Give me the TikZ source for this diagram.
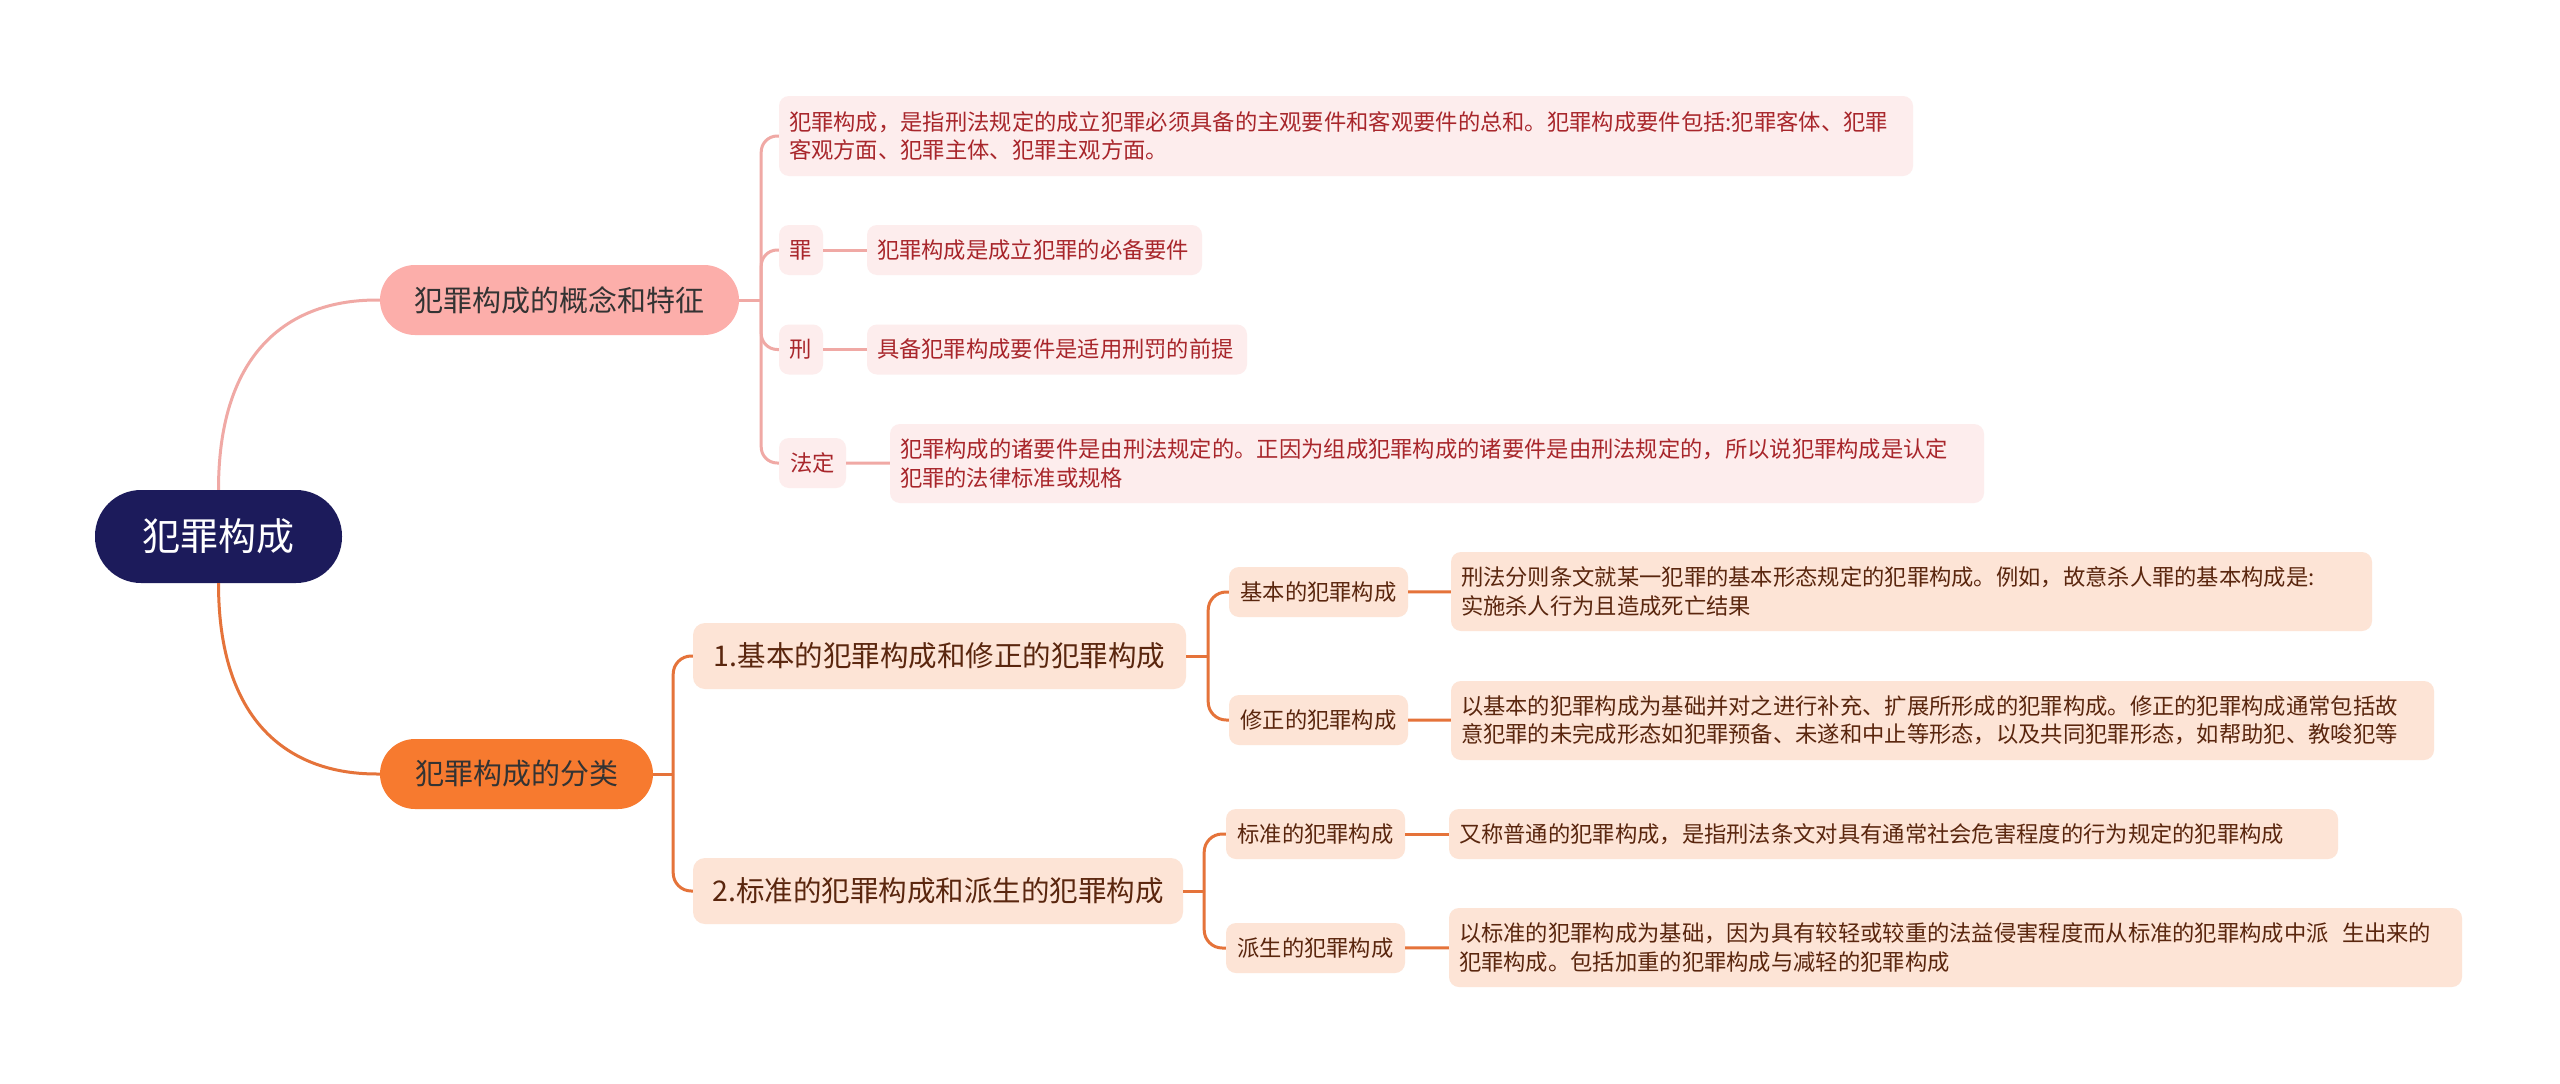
\documentclass[tikz,border=0pt]{standalone}
\usepackage{fontspec}
\newfontfamily\cjk{Noto Sans CJK SC}
\definecolor{rootblue}{HTML}{1C1B5B}
\definecolor{pinkfill}{HTML}{FCAEAA}
\definecolor{pinkpale}{HTML}{FDEDED}
\definecolor{pinkline}{HTML}{F0A9A5}
\definecolor{pinktext}{HTML}{A8262B}
\definecolor{orangefill}{HTML}{F77A2F}
\definecolor{peachpale}{HTML}{FDE4D6}
\definecolor{orangeline}{HTML}{E5733A}
\definecolor{browntext}{HTML}{5A260E}
\definecolor{darktext}{HTML}{333333}
\tikzset{
  rootbox/.style={fill=rootblue, text=white, rounded corners=46pt, minimum width=247pt, minimum height=93pt, inner sep=0pt, font=\cjk\fontsize{38}{44}\selectfont},
  mainbox/.style={rounded corners=35pt, minimum height=70pt, inner sep=0pt, text=darktext, font=\cjk\fontsize{29}{34}\selectfont},
  pinktag/.style={fill=pinkpale, text=pinktext, rounded corners=10pt, minimum height=50pt, inner sep=0pt, font=\cjk\fontsize{22.3}{28.5}\selectfont},
  pinkleaf/.style={pinktag, align=left, inner xsep=10pt},
  peachtag/.style={fill=peachpale, text=browntext, rounded corners=10pt, minimum height=50pt, inner sep=0pt, font=\cjk\fontsize{22.3}{28.5}\selectfont},
  peachleaf/.style={peachtag, align=left, inner xsep=10pt},
  peachmid/.style={peachtag, rounded corners=12pt, minimum height=66pt, font=\cjk\fontsize{28.5}{34}\selectfont},
  pinklink/.style={draw=pinkline, line width=3pt},
  orangelink/.style={draw=orangeline, line width=3pt},
}
\begin{document}
\begin{tikzpicture}[x=1pt,y=-1pt]
  \fill [white] (0,0) rectangle (2560,1084);
  \useasboundingbox (0,0) rectangle (2560,1084);

  \node [rootbox] (root) at (218.5,536.5) {犯罪构成};
  \node [mainbox, fill=pinkfill, minimum width=359pt] (concept) at (559.5,300) {犯罪构成的概念和特征};
  \node [mainbox, fill=orangefill, minimum width=273pt] (kinds) at (516.5,774) {犯罪构成的分类};

  \node [pinkleaf, text width=1114pt, minimum height=80pt] (def) at (1346,136) {犯罪构成，是指刑法规定的成立犯罪必须具备的主观要件和客观要件的总和。犯罪构成要件包括:犯罪客体、犯罪\\客观方面、犯罪主体、犯罪主观方面。};
  \node [pinktag, minimum width=44pt] (zui) at (801,250) {罪};
  \node [pinkleaf, text width=315pt] (zuitext) at (1034.5,250) {犯罪构成是成立犯罪的必备要件};
  \node [pinktag, minimum width=44pt] (xing) at (801,349.5) {刑};
  \node [pinkleaf, text width=360pt] (xingtext) at (1057,349.5) {具备犯罪构成要件是适用刑罚的前提};
  \node [pinktag, minimum width=67pt] (fading) at (812.5,463) {法定};
  \node [pinkleaf, text width=1074pt, minimum height=79pt] (fadingtext) at (1437,463.5) {犯罪构成的诸要件是由刑法规定的。正因为组成犯罪构成的诸要件是由刑法规定的，所以说犯罪构成是认定\\犯罪的法律标准或规格};

  \node [peachmid, minimum width=493pt] (one) at (939.5,656) {1.基本的犯罪构成和修正的犯罪构成};
  \node [peachmid, minimum width=490pt] (two) at (938,891) {2.标准的犯罪构成和派生的犯罪构成};

  \node [peachtag, minimum width=179pt] (basic) at (1318.5,592) {基本的犯罪构成};
  \node [peachleaf, text width=901pt, minimum height=79pt] (basictext) at (1911.5,591.5) {刑法分则条文就某一犯罪的基本形态规定的犯罪构成。例如，故意杀人罪的基本构成是:\\实施杀人行为且造成死亡结果};
  \node [peachtag, minimum width=179pt] (amend) at (1318.5,720) {修正的犯罪构成};
  \node [peachleaf, text width=963pt, minimum height=79pt] (amendtext) at (1942.5,720.5) {以基本的犯罪构成为基础并对之进行补充、扩展所形成的犯罪构成。修正的犯罪构成通常包括故\\意犯罪的未完成形态如犯罪预备、未遂和中止等形态，以及共同犯罪形态，如帮助犯、教唆犯等};
  \node [peachtag, minimum width=179pt] (standard) at (1315.5,834) {标准的犯罪构成};
  \node [peachleaf, text width=869pt] (standardtext) at (1893.5,834) {又称普通的犯罪构成，是指刑法条文对具有通常社会危害程度的行为规定的犯罪构成};
  \node [peachtag, minimum width=179pt] (derived) at (1315.5,948) {派生的犯罪构成};
  \node [peachleaf, text width=993pt, minimum height=79pt] (derivedtext) at (1955.5,947.5) {以标准的犯罪构成为基础，因为具有较轻或较重的法益侵害程度而从标准的犯罪构成中派\hspace{0.6em}生出来的\\犯罪构成。包括加重的犯罪构成与减轻的犯罪构成};

  \draw [pinklink] (root.north) .. controls (root.north |- concept.west) and ([xshift=-30pt]concept.west) .. (concept.west);
  \draw [orangelink] (root.south) .. controls (root.south |- kinds.west) and ([xshift=-30pt]kinds.west) .. (kinds.west);

  \coordinate (conceptfork) at ([xshift=22pt]concept.east);
  \draw [pinklink] (concept.east) -- (conceptfork);
  \draw [pinklink, rounded corners=16pt] (conceptfork) |- (def.west);
  \draw [pinklink, rounded corners=16pt] (conceptfork) |- (zui.west);
  \draw [pinklink, rounded corners=16pt] (conceptfork) |- (xing.west);
  \draw [pinklink, rounded corners=16pt] (conceptfork) |- (fading.west);
  \draw [pinklink] (zui) -- (zuitext);
  \draw [pinklink] (xing) -- (xingtext);
  \draw [pinklink] (fading) -- (fadingtext);

  \coordinate (kindsfork) at ([xshift=20pt]kinds.east);
  \draw [orangelink] (kinds.east) -- (kindsfork);
  \draw [orangelink, rounded corners=18pt] (kindsfork) |- (one.west);
  \draw [orangelink, rounded corners=18pt] (kindsfork) |- (two.west);

  \coordinate (onefork) at ([xshift=22pt]one.east);
  \draw [orangelink] (one.east) -- (onefork);
  \draw [orangelink, rounded corners=18pt] (onefork) |- (basic.west);
  \draw [orangelink, rounded corners=18pt] (onefork) |- (amend.west);
  \draw [orangelink] (basic) -- (basictext);
  \draw [orangelink] (amend) -- (amendtext);

  \coordinate (twofork) at ([xshift=21pt]two.east);
  \draw [orangelink] (two.east) -- (twofork);
  \draw [orangelink, rounded corners=18pt] (twofork) |- (standard.west);
  \draw [orangelink, rounded corners=18pt] (twofork) |- (derived.west);
  \draw [orangelink] (standard) -- (standardtext);
  \draw [orangelink] (derived) -- (derivedtext);
\end{tikzpicture}
\end{document}
